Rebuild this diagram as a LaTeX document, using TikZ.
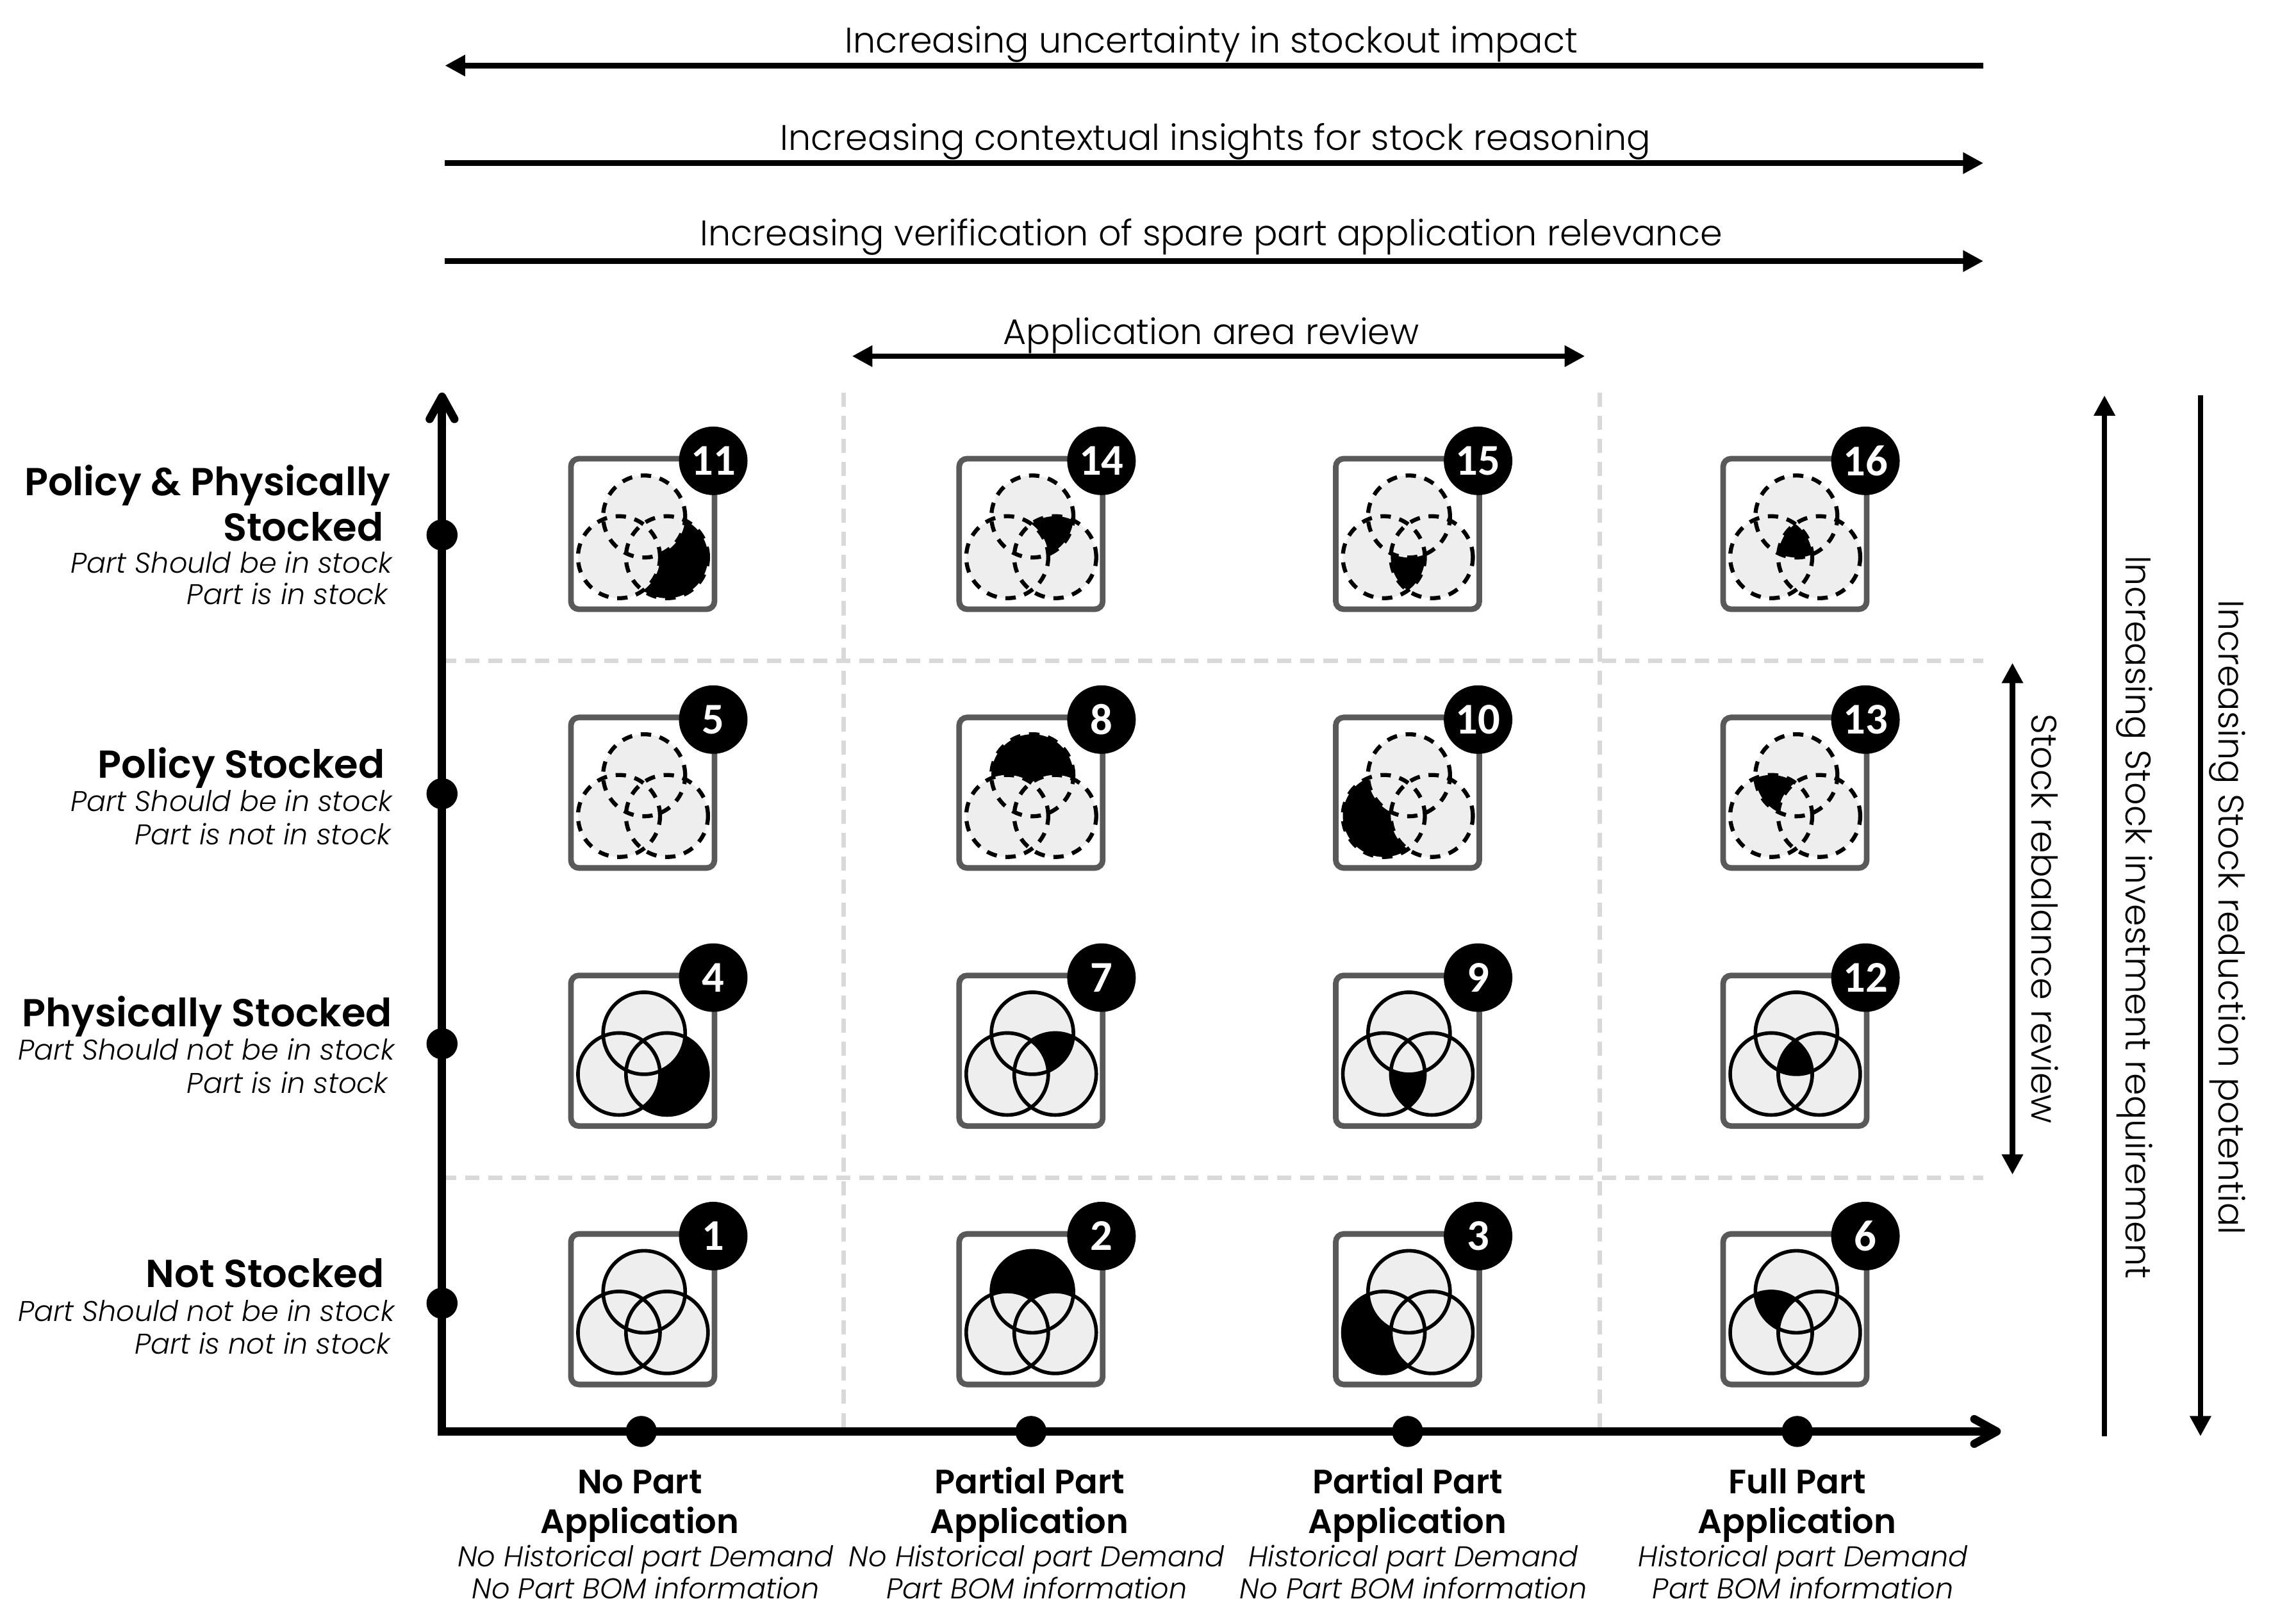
\documentclass[tikz,border=0pt]{standalone}
\usepackage{fontspec}
\setmainfont{Poppins}[UprightFont=* Light, ItalicFont=* Light Italic, BoldFont=* SemiBold]
\newfontfamily\badgefont{Carlito}
\usetikzlibrary{arrows.meta, positioning, shadows}

\definecolor{cardedge}{HTML}{595959}
\definecolor{vennfill}{HTML}{EEEEEE}
\definecolor{gridline}{HTML}{D9D9D9}

\tikzset{
    x=0.22691mm, y=-0.22691mm,
    trend/.style={line width=2.4pt, -{Triangle[length=9pt,width=9pt]}},
    both/.style={line width=2.4pt, {Triangle[length=9pt,width=9pt]}-{Triangle[length=9pt,width=9pt]}},
    axis/.style={line width=3.6pt, {Straight Barb[length=10pt,width=11pt,round]}-{Straight Barb[length=10pt,width=11pt,round]}},
    grid dash/.style={line width=2pt, gridline, dash pattern=on 6.3pt off 4pt},
    axis dot/.style={circle, fill=black, minimum size=13.8pt, inner sep=0pt},
    trend label/.style={anchor=base, font=\fontsize{15.8}{18}\selectfont},
    side label/.style={anchor=base, rotate=-90, font=\fontsize{15.8}{18}\selectfont},
    head/.style={anchor=base east, inner sep=0pt, font=\fontsize{17.3}{20}\selectfont\bfseries},
    sub/.style={anchor=base east, inner sep=0pt, font=\fontsize{12.65}{15}\selectfont\itshape},
    app head/.style={anchor=base, font=\fontsize{15}{18}\selectfont\bfseries},
    app sub/.style={anchor=base, font=\fontsize{12.7}{15}\selectfont\itshape},
    card/.style={draw=cardedge, fill=white, line width=2.5pt, rounded corners=3.5pt,
        minimum width=2.24cm, minimum height=2.35cm, inner sep=0pt,
        drop shadow={shadow xshift=0pt, shadow yshift=-0.8pt, opacity=.15, fill=black}},
    badge/.style={circle, fill=black, text=white, minimum size=1.07cm, inner sep=0pt,
        font=\badgefont\bfseries\fontsize{19.5}{20}\selectfont},
    solid ring/.style={draw=black, line width=1.6pt},
    dashed ring/.style={draw=black, line width=1.8pt, dash pattern=on 4.6pt off 3.9pt},
}

% The black part of each diagram, painted over the grey rings
\newcommand{\regionnone}{}
\newcommand{\regionT}{\fill[black] (ringT) circle (0.64cm);
    \fill[vennfill] (ringL) circle (0.64cm) (ringR) circle (0.64cm);}
\newcommand{\regionL}{\fill[black] (ringL) circle (0.64cm);
    \fill[vennfill] (ringT) circle (0.64cm) (ringR) circle (0.64cm);}
\newcommand{\regionR}{\fill[black] (ringR) circle (0.64cm);
    \fill[vennfill] (ringT) circle (0.64cm) (ringL) circle (0.64cm);}
\newcommand{\regionTL}{\begin{scope}\clip (ringT) circle (0.64cm);
    \fill[black] (ringL) circle (0.64cm);\end{scope}
    \fill[vennfill] (ringR) circle (0.64cm);}
\newcommand{\regionTR}{\begin{scope}\clip (ringT) circle (0.64cm);
    \fill[black] (ringR) circle (0.64cm);\end{scope}
    \fill[vennfill] (ringL) circle (0.64cm);}
\newcommand{\regionLR}{\begin{scope}\clip (ringL) circle (0.64cm);
    \fill[black] (ringR) circle (0.64cm);\end{scope}
    \fill[vennfill] (ringT) circle (0.64cm);}
\newcommand{\regionall}{\begin{scope}\clip (ringT) circle (0.64cm);
    \clip (ringL) circle (0.64cm);
    \fill[black] (ringR) circle (0.64cm);\end{scope}}

% number, x, y, ring style, black part
\newcommand{\venncard}[5]{
    \node[card] (card#1) at (#2,#3) {};
    \begin{scope}[shift={(#2,#3)}]
        \coordinate (ringT) at (1,-12);
        \coordinate (ringL) at (-16.3,16);
        \coordinate (ringR) at (16.7,16);
        \fill[vennfill] (ringT) circle (0.64cm) (ringL) circle (0.64cm) (ringR) circle (0.64cm);
        \csname region#5\endcsname
        \path[#4] (ringT) circle (0.64cm);
        \path[#4] (ringL) circle (0.64cm);
        \path[#4] (ringR) circle (0.64cm);
    \end{scope}
    \node[badge] (badge#1) at ([shift={(48.5,-50.3)}]card#1.center) {#1};
}

\begin{document}
\begin{tikzpicture}
    \path[use as bounding box] (0,0) rectangle (1568,1116.8);

    % Grid lines
    \coordinate (g1a) at (580,270);  \coordinate (g1b) at (580,985);
    \coordinate (g2a) at (1100,270); \coordinate (g2b) at (1100,985);
    \coordinate (g3a) at (304,454.6); \coordinate (g3b) at (1364,454.6);
    \coordinate (g4a) at (304,810.4); \coordinate (g4b) at (1364,810.4);
    \draw[grid dash] (g1a) -- (g1b);
    \draw[grid dash] (g2a) -- (g2b);
    \draw[grid dash] (g3a) -- (g3b);
    \draw[grid dash] (g4a) -- (g4b);

    % Arrows along the top
    \coordinate (t1l) at (306,45.1);  \coordinate (t1r) at (1364,45.1);
    \coordinate (t2l) at (306,112.2); \coordinate (t2r) at (1364,112.2);
    \coordinate (t3l) at (306,179.6); \coordinate (t3r) at (1364,179.6);
    \coordinate (t4l) at (586,245);   \coordinate (t4r) at (1090,245);
    \draw[trend] (t1r) -- (t1l);
    \draw[trend] (t2l) -- (t2r);
    \draw[trend] (t3l) -- (t3r);
    \draw[both]  (t4l) -- (t4r);
    \node[trend label] (uncertainty) at (833,36.4)  {Increasing uncertainty in stockout impact};
    \node[trend label] (insights)    at (836,103.3) {Increasing contextual insights for stock reasoning};
    \node[trend label] (relevance)   at (833,168.8) {Increasing verification of spare part application relevance};
    \node[trend label] (appreview)   at (833,237)   {Application area review};

    % Arrows down the right
    \coordinate (s1t) at (1384,456);   \coordinate (s1b) at (1384,808);
    \coordinate (s2t) at (1447.3,272); \coordinate (s2b) at (1447.3,988);
    \coordinate (s3t) at (1513.3,272); \coordinate (s3b) at (1513.3,988);
    \draw[both]  (s1t) -- (s1b);
    \draw[trend] (s2b) -- (s2t);
    \draw[trend] (s3t) -- (s3b);
    \node[side label] (rebalance)  at (1397,632) {Stock rebalance review};
    \node[side label] (investment) at (1462,631) {Increasing Stock investment requirement};
    \node[side label] (reduction)  at (1526,631) {Increasing Stock reduction potential};

    % Axes
    \coordinate (origin) at (304,984.7);
    \coordinate (ytip) at (304,270);
    \coordinate (xtip) at (1376,984.7);
    \draw[axis] (ytip) -- (origin) -- (xtip);
    \node[axis dot] (y1) at (304,368) {};
    \node[axis dot] (y2) at (304,546) {};
    \node[axis dot] (y3) at (304,718) {};
    \node[axis dot] (y4) at (304,896.5) {};
    \node[axis dot] (x1) at (441,984.7) {};
    \node[axis dot] (x2) at (709,984.7) {};
    \node[axis dot] (x3) at (968,984.7) {};
    \node[axis dot] (x4) at (1236,984.7) {};

    % Row labels
    \node[head] (r1a) at (269,341) {Policy \& Physically};
    \node[head] (r1b) at (264,372) {Stocked};
    \node[sub]  (r1c) at (270,394) {Part Should be in stock};
    \node[sub]  (r1d) at (267,416) {Part is in stock};
    \node[head] (r2a) at (265,535) {Policy Stocked};
    \node[sub]  (r2b) at (270,558) {Part Should be in stock};
    \node[sub]  (r2c) at (269,581) {Part is not in stock};
    \node[head] (r3a) at (270,706) {Physically Stocked};
    \node[sub]  (r3b) at (271.5,729) {Part Should not be in stock};
    \node[sub]  (r3c) at (267,752) {Part is in stock};
    \node[head] (r4a) at (264.5,885.5) {Not Stocked};
    \node[sub]  (r4b) at (271.5,909) {Part Should not be in stock};
    \node[sub]  (r4c) at (268.8,931.6) {Part is not in stock};

    % Column labels
    \node[app head] (c1a) at (440,1027.5) {No Part};
    \node[app head] (c1b) at (440,1055) {Application};
    \node[app sub]  (c1c) at (444,1077.5) {No Historical part Demand};
    \node[app sub]  (c1d) at (444,1099.7) {No Part BOM information};
    \node[app head] (c2a) at (708,1027.5) {Partial Part};
    \node[app head] (c2b) at (708,1055) {Application};
    \node[app sub]  (c2c) at (713,1077.5) {No Historical part Demand};
    \node[app sub]  (c2d) at (713,1099.7) {Part BOM information};
    \node[app head] (c3a) at (968,1027.5) {Partial Part};
    \node[app head] (c3b) at (968,1055) {Application};
    \node[app sub]  (c3c) at (972,1077.5) {Historical part Demand};
    \node[app sub]  (c3d) at (972,1099.7) {No Part BOM information};
    \node[app head] (c4a) at (1236,1027.5) {Full Part};
    \node[app head] (c4b) at (1236,1055) {Application};
    \node[app sub]  (c4c) at (1240,1077.5) {Historical part Demand};
    \node[app sub]  (c4d) at (1240,1099.7) {Part BOM information};

    % The sixteen diagrams
    \venncard{11}{442}{367.3}{dashed ring}{R}
    \venncard{14}{709}{367.3}{dashed ring}{TR}
    \venncard{15}{968}{367.3}{dashed ring}{LR}
    \venncard{16}{1234.4}{367.3}{dashed ring}{all}

    \venncard{5}{442}{545.3}{dashed ring}{none}
    \venncard{8}{709}{545.3}{dashed ring}{T}
    \venncard{10}{968}{545.3}{dashed ring}{L}
    \venncard{13}{1234.4}{545.3}{dashed ring}{TL}

    \venncard{4}{442}{722.8}{solid ring}{R}
    \venncard{7}{709}{722.8}{solid ring}{TR}
    \venncard{9}{968}{722.8}{solid ring}{LR}
    \venncard{12}{1234.4}{722.8}{solid ring}{all}

    \venncard{1}{442}{900.6}{solid ring}{none}
    \venncard{2}{709}{900.6}{solid ring}{T}
    \venncard{3}{968}{900.6}{solid ring}{L}
    \venncard{6}{1234.4}{900.6}{solid ring}{TL}
\end{tikzpicture}
\end{document}
